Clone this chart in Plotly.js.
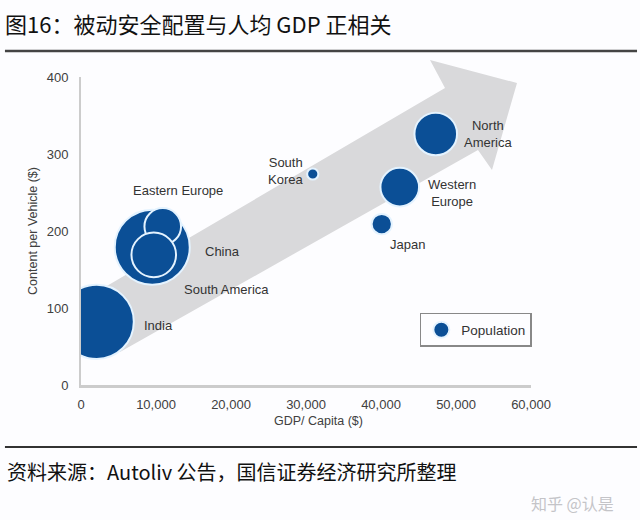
<!DOCTYPE html>
<html>
<head>
<meta charset="utf-8">
<script src="https://cdn.plot.ly/plotly-3.0.1.min.js"></script>
<style>html,body{margin:0;padding:0;background:#fdfdff;}#chart{width:640px;height:520px;}</style>
</head>
<body>
<div id="chart"></div>
<script>
// Data
const regions = ["India", "China", "Eastern Europe", "South America", "South Korea", "Japan", "Western Europe", "North America"];
const regionLabels = ["India", "China", "Eastern Europe", "South America", "South<br>Korea", "Japan", "Western<br>Europe", "North<br>America"];
const gdpPerCapita = [2100, 9500, 10900, 9700, 30900, 40100, 42500, 47300];
const contentPerVehicle = [82, 179, 206, 169, 274, 209, 257, 326];
const population = [1270, 1300, 310, 460, 29, 95, 345, 420];
const xTickVals = [0, 10000, 20000, 30000, 40000, 50000, 60000];
const yTickVals = [0, 100, 200, 300, 400];

// label offsets (pixels) relative to each bubble - styling only
const labelShift = [[62,-4,'center'],[70,-4,'center'],[15,36,'center'],[73,-35,'center'],[-27,3,'right'],[26,-20,'center'],[52,-6,'center'],[52,0,'center']];

const bubbleColor = '#0b4f96';
const maxDiameter = 75;
const sizeref = 2 * Math.max(...population) / (maxDiameter * maxDiameter);

const font = 'Liberation Sans, Arial, sans-serif';
const cjk = 'Noto Sans CJK SC, sans-serif';

const trace = {
  type: 'scatter',
  mode: 'markers',
  name: 'Population',
  x: gdpPerCapita,
  y: contentPerVehicle,
  text: regions,
  marker: {
    size: population,
    sizemode: 'area',
    sizeref: sizeref,
    color: bubbleColor,
    opacity: 1,
    line: {color: '#e4f3ff', width: 2}
  },
  showlegend: true,
  hoverinfo: 'text'
};

const annotations = regions.map((r, i) => ({
  x: gdpPerCapita[i], y: contentPerVehicle[i], xref: 'x', yref: 'y',
  text: regionLabels[i], showarrow: false,
  xshift: labelShift[i][0], yshift: labelShift[i][1],
  align: labelShift[i][2],
  font: {family: font, size: 13, color: '#333333'}
}));
annotations.push({
  x: 0.5267, y: -0.118, xref: 'paper', yref: 'paper', showarrow: false,
  text: 'GDP/ Capita ($)', xanchor: 'center', yanchor: 'middle',
  font: {family: font, size: 12.5, color: '#404040'}
});
annotations.push({
  x: -0.169, y: -0.28, xref: 'paper', yref: 'paper', showarrow: false,
  text: '资料来源：Autoliv 公告，国信证券经济研究所整理', xanchor: 'left', yanchor: 'middle',
  font: {family: cjk, size: 20, color: '#111111'}
});
annotations.push({
  x: 1.0933, y: -0.383, xref: 'paper', yref: 'paper', showarrow: false,
  text: '知乎 @认是', xanchor: 'center', yanchor: 'middle',
  font: {family: cjk, size: 16, color: '#c4c4c8'}
});

const P = (px, py) => ((px - 81) / 450).toFixed(4) + ',' + ((385 - py) / 308).toFixed(4);
const arrowPath = 'M' + P(100,290) + ' L' + P(445,88) + ' L' + P(430,60) + ' L' + P(517,83) +
  ' L' + P(492,170) + ' L' + P(478,150) + ' L' + P(120,352) + ' Z';

const layout = {
  width: 640, height: 520,
  paper_bgcolor: '#fdfdff',
  plot_bgcolor: 'rgba(0,0,0,0)',
  margin: {l: 81, r: 109, t: 77, b: 135},
  title: {
    text: '图16：被动安全配置与人均 GDP 正相关',
    x: 5/640, xref: 'container', xanchor: 'left',
    y: 1 - 25/520, yref: 'container', yanchor: 'middle',
    font: {family: cjk, size: 22, color: '#111111'}
  },
  xaxis: {
    range: [0, 60000], tickvals: xTickVals, tickformat: ',',
    showgrid: false, zeroline: false, showline: true,
    linecolor: '#cccccc', linewidth: 3, ticks: '',
    ticklabelstandoff: 5,
    tickfont: {family: font, size: 13, color: '#404040'}
  },
  yaxis: {
    range: [0, 400], tickvals: yTickVals,
    showgrid: false, zeroline: false, showline: true,
    linecolor: '#cccccc', linewidth: 2, ticks: '',
    ticklabelstandoff: 8,
    tickfont: {family: font, size: 13, color: '#404040'},
    title: {text: 'Content per Vehicle ($)', standoff: 6, font: {family: font, size: 12.5, color: '#404040'}}
  },
  legend: {
    x: 0.753, y: 0.234, xanchor: 'left', yanchor: 'top',
    bgcolor: '#fdfdff', bordercolor: '#888888', borderwidth: 1.5,
    font: {family: font, size: 13.5, color: '#333333'},
    itemsizing: 'trace'
  },
  showlegend: true,
  shapes: [
    {type: 'path', xref: 'paper', yref: 'paper', path: arrowPath, fillcolor: '#d9d9db', line: {width: 0}, layer: 'below'},
    {type: 'line', xref: 'paper', yref: 'paper', x0: -0.169, x1: 1.2356, y0: 1.0844, y1: 1.0844, line: {color: '#444444', width: 2.5}},
    {type: 'line', xref: 'paper', yref: 'paper', x0: -0.169, x1: 1.2356, y0: -0.2013, y1: -0.2013, line: {color: '#333333', width: 2}}
  ],
  annotations: annotations
};

Plotly.newPlot('chart', [trace], layout, {displayModeBar: false, staticPlot: true});
</script>
</body>
</html>
